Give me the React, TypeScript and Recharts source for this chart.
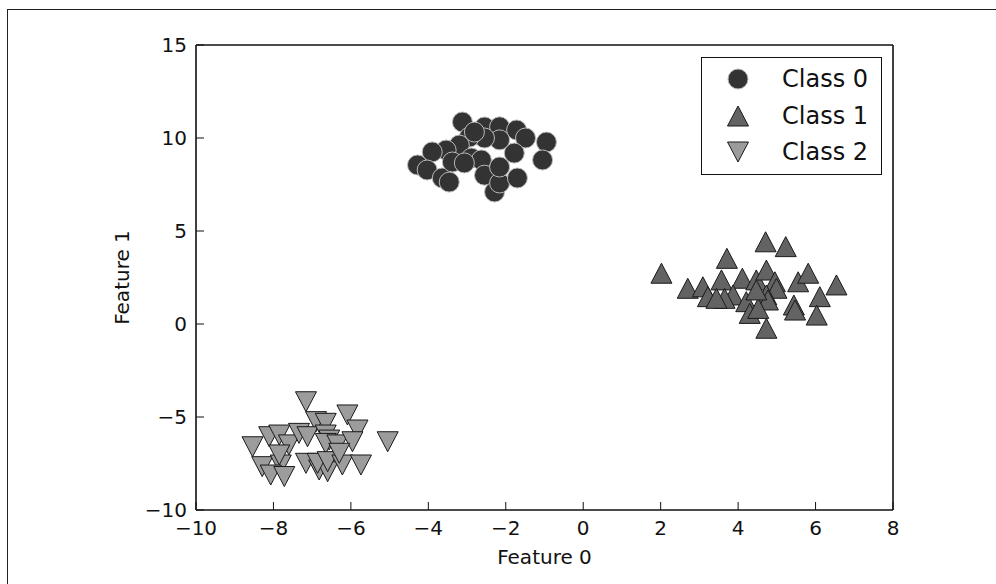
import * as React from "react"
import { ScatterChart, Scatter, XAxis, YAxis, Legend } from "recharts"

// class 0 (circles)
const class0X = [-3.12, -2.55, -2.16, -1.72, -1.49, -0.95, -1.05, -1.78, -2.16, -2.55, -2.94, -3.2, -3.54, -3.9, -4.28, -4.03, -3.64, -3.46, -3.38, -2.89, -2.63, -2.55, -2.29, -2.16, -2.16, -1.7, -3.07, -2.81]
const class0Y = [10.86, 10.59, 10.6, 10.43, 10.0, 9.78, 8.82, 9.19, 9.9, 10.0, 10.05, 9.62, 9.35, 9.25, 8.55, 8.28, 7.85, 7.63, 8.71, 8.92, 8.82, 8.0, 7.1, 7.58, 8.44, 7.85, 8.66, 10.32]

// class 1 (triangles up)
const class1X = [2.02, 4.71, 5.23, 3.71, 2.7, 3.09, 3.57, 3.22, 4.11, 4.47, 4.73, 4.95, 4.99, 3.87, 3.65, 4.21, 4.73, 4.77, 4.3, 4.52, 4.73, 5.55, 5.81, 6.54, 6.11, 5.44, 5.47, 6.03, 3.44, 4.47]
const class1Y = [2.73, 4.42, 4.16, 3.53, 1.92, 2.0, 2.37, 1.47, 2.46, 2.37, 2.9, 2.27, 1.92, 1.56, 1.38, 1.2, 1.56, 1.29, 0.57, 0.84, -0.23, 2.27, 2.73, 2.1, 1.47, 1.02, 0.75, 0.48, 1.38, 1.83]

// class 2 (triangles down)
const class2X = [-7.16, -6.09, -6.9, -6.65, -5.83, -5.05, -8.54, -8.11, -7.85, -7.6, -7.34, -7.12, -6.65, -6.56, -6.65, -6.35, -5.96, -8.29, -7.81, -8.07, -7.72, -7.16, -6.82, -6.6, -6.86, -6.6, -6.22, -5.74, -6.3, -7.85]
const class2Y = [-4.18, -4.89, -5.25, -5.34, -5.7, -6.33, -6.6, -6.06, -5.97, -6.5, -5.88, -6.06, -5.97, -6.24, -6.42, -6.5, -6.33, -7.67, -7.58, -8.12, -8.2, -7.49, -7.85, -7.94, -7.49, -7.4, -7.58, -7.58, -6.95, -7.04]

const xTicks = [-10, -8, -6, -4, -2, 0, 2, 4, 6, 8]
const yTicks = [-10, -5, 0, 5, 10, 15]
const classNames = ["Class 0", "Class 1", "Class 2"]

const toPoints = (xs: number[], ys: number[]) => xs.map((x, i) => ({ x, y: ys[i] }))

const FONT = "'DejaVu Sans', sans-serif"
const fmt = (v: number) => String(v).replace("-", "\u2212")

const COLORS = ["#333333", "#636363", "#9c9c9c"]

function Marker({ kind, cx, cy }: { kind: number; cx: number; cy: number }) {
  if (kind === 0) {
    return <circle cx={cx} cy={cy} r={10} fill={COLORS[0]} stroke="#b8b8b8" strokeWidth={1} />
  }
  const h = 10
  const w = 10.5
  const pts =
    kind === 1
      ? `${cx},${cy - h} ${cx - w},${cy + h} ${cx + w},${cy + h}`
      : `${cx},${cy + h} ${cx - w},${cy - h} ${cx + w},${cy - h}`
  return <polygon points={pts} fill={COLORS[kind]} stroke="#1a1a1a" strokeWidth={1} />
}

function LegendBox() {
  return (
    <div
      style={{
        width: 181,
        height: 118,
        boxSizing: "border-box",
        border: "1.5px solid #111",
        background: "#fff",
        position: "relative",
      }}
    >
      {classNames.map((name, i) => (
        <div
          key={name}
          style={{ position: "absolute", left: 0, top: 21 + i * 36.5 - 18, height: 36, width: 178 }}
        >
          <svg width={60} height={36} style={{ position: "absolute", left: 14, top: 0 }}>
            <Marker kind={i} cx={22} cy={18} />
          </svg>
          <span
            style={{
              position: "absolute",
              left: 80,
              top: 2,
              fontFamily: FONT,
              fontSize: 24,
              lineHeight: "32px",
              color: "#111",
            }}
          >
            {name}
          </span>
        </div>
      ))}
    </div>
  )
}

const XTitle = ({ viewBox }: any) => (
  <text
    x={viewBox.x + viewBox.width / 2}
    y={564}
    textAnchor="middle"
    fontFamily={FONT}
    fontSize={20}
    fill="#111"
  >
    Feature 0
  </text>
)

const YTitle = ({ viewBox }: any) => {
  const x = 122
  const y = viewBox.y + viewBox.height / 2
  return (
    <text
      x={x}
      y={y}
      transform={`rotate(-90 ${x} ${y})`}
      textAnchor="middle"
      dominantBaseline="central"
      fontFamily={FONT}
      fontSize={20}
      fill="#111"
    >
      Feature 1
    </text>
  )
}

const noLabel = () => <g />

export default function App() {
  const axisLine = { stroke: "#111", strokeWidth: 1.6 }
  const tickLine = { stroke: "#111", strokeWidth: 1 }
  const tickStyle = { fontFamily: FONT, fontSize: 20, fill: "#111" }
  return (
    <div
      style={{
        position: "absolute",
        left: 0,
        top: 0,
        width: 996,
        height: 584,
        overflow: "hidden",
        background: "#fff",
      }}
    >
      <div
        style={{
          position: "absolute",
          left: 7,
          top: 9,
          width: 1100,
          height: 700,
          border: "1.5px solid #222",
        }}
      />
      <ScatterChart
        width={996}
        height={584}
        margin={{ top: 44, right: 102, bottom: 14, left: 136 }}
        style={{ position: "absolute", left: 0, top: 0 }}
      >
        <XAxis
          xAxisId={0}
          type="number"
          dataKey="x"
          domain={[-10, 8]}
          ticks={xTicks}
          interval={0}
          allowDataOverflow
          height={60}
          axisLine={axisLine}
          tickLine={tickLine}
          tickSize={-8}
          tickMargin={19}
          tick={tickStyle}
          tickFormatter={fmt}
          label={<XTitle />}
        />
        <XAxis
          xAxisId="top"
          orientation="top"
          type="number"
          domain={[-10, 8]}
          ticks={xTicks}
          interval={0}
          height={1}
          axisLine={axisLine}
          tickLine={tickLine}
          tickSize={-8}
          tick={noLabel}
        />
        <YAxis
          yAxisId={0}
          type="number"
          dataKey="y"
          domain={[-10, 15]}
          ticks={yTicks}
          interval={0}
          allowDataOverflow
          width={60}
          axisLine={axisLine}
          tickLine={tickLine}
          tickSize={-8}
          tickMargin={17}
          tick={tickStyle}
          tickFormatter={fmt}
          label={<YTitle />}
        />
        <YAxis
          yAxisId="right"
          orientation="right"
          type="number"
          domain={[-10, 15]}
          ticks={yTicks}
          interval={0}
          width={1}
          axisLine={axisLine}
          tickLine={tickLine}
          tickSize={-8}
          tick={noLabel}
        />
        <Legend
          layout="vertical"
          align="center"
          verticalAlign="middle"
          content={() => <LegendBox />}
          wrapperStyle={{ left: 701, top: 57, width: 181, height: 118 }}
        />
        <Scatter
          name={classNames[0]}
          data={toPoints(class0X, class0Y)}
          isAnimationActive={false}
          shape={(p: any) => <Marker kind={0} cx={p.cx} cy={p.cy} />}
        />
        <Scatter
          name={classNames[1]}
          data={toPoints(class1X, class1Y)}
          isAnimationActive={false}
          shape={(p: any) => <Marker kind={1} cx={p.cx} cy={p.cy} />}
        />
        <Scatter
          name={classNames[2]}
          data={toPoints(class2X, class2Y)}
          isAnimationActive={false}
          shape={(p: any) => <Marker kind={2} cx={p.cx} cy={p.cy} />}
        />
      </ScatterChart>
    </div>
  )
}
